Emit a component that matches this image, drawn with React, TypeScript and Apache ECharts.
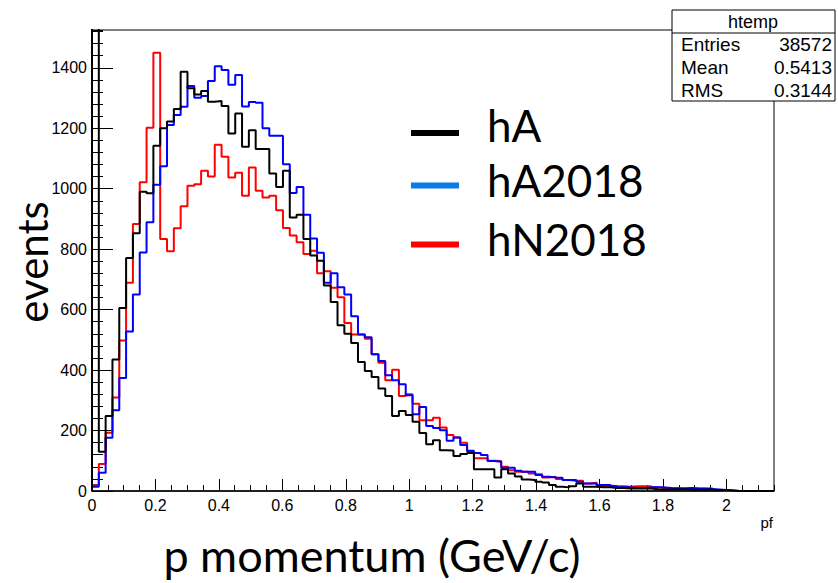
import React, { useEffect, useRef } from "react";
import * as echarts from "echarts";

// Histogram binning (ROOT htemp: 100 bins from 0 to 2.15)
const X_MIN = 0;
const X_MAX = 2.15;
const N_BINS = 100;
const Y_MAX = 1525;

// Bin contents (bins beyond the list are empty)
const hA = [
  1600, 130, 248, 435, 605, 771, 853, 990, 985, 1142,
  1200, 1222, 1264, 1387, 1332, 1312, 1323, 1288, 1290, 1274,
  1183, 1249, 1139, 1193, 1131, 1131, 1050, 1006, 1059, 905,
  914, 834, 779, 762, 680, 625, 548, 520, 490, 427,
  397, 377, 339, 314, 248, 265, 251, 229, 192, 155,
  168, 135, 134, 116, 122, 126, 72, 72, 72, 45,
  72, 58, 48, 38, 36, 31, 28, 20, 14, 12,
  16, 25, 14, 14, 12, 12, 10, 10, 8, 9,
  8, 8, 6, 5, 5, 6, 6, 4, 4, 4,
  6, 3, 3, 2,
];
const hA2018 = [
  14, 60, 176, 267, 374, 528, 650, 789, 889, 1013,
  1074, 1211, 1244, 1271, 1340, 1301, 1307, 1356, 1405, 1393,
  1344, 1376, 1272, 1287, 1284, 1200, 1175, 1175, 1081, 986,
  1006, 914, 835, 788, 689, 720, 674, 650, 578, 518,
  509, 452, 430, 383, 366, 353, 317, 254, 278, 215,
  208, 201, 166, 177, 152, 133, 126, 119, 99, 97,
  77, 77, 67, 64, 64, 53, 47, 45, 44, 36,
  36, 31, 25, 25, 20, 20, 16, 12, 12, 10,
  10, 12, 12, 12, 10, 9, 9, 10, 8, 7,
  7, 5, 3, 2,
];
const hN2018 = [
  20, 89, 193, 309, 498, 689, 883, 1021, 1202, 1450,
  834, 793, 869, 942, 1010, 1015, 1059, 1040, 1145, 1106,
  1037, 1053, 977, 1070, 993, 971, 977, 929, 870, 845,
  823, 784, 795, 720, 727, 672, 641, 556, 518, 518,
  504, 452, 424, 366, 401, 314, 320, 289, 234, 234,
  242, 210, 185, 177, 160, 130, 108, 108, 100, 99,
  80, 69, 64, 64, 58, 55, 45, 47, 40, 36,
  34, 34, 25, 27, 15, 18, 16, 16, 14, 16,
  16, 16, 12, 10, 8, 8, 7, 8, 8, 9,
  8, 3, 2,
];

const seriesNames = ["hN2018", "hA2018", "hA"];
const seriesColors = ["#ff0000", "#0000ff", "#000000"];
const legendNames = ["hA", "hA2018", "hN2018"];
const legendColors = ["#000000", "#0a7ce6", "#ff0000"];

const statsTitle = "htemp";
const statsLabels = ["Entries", "Mean", "RMS"];
const statsValues = ["38572", "0.5413", "0.3144"];

function toSteps(values: number[]): [number, number][] {
  const w = (X_MAX - X_MIN) / N_BINS;
  const full = Array.from({ length: N_BINS }, (_, i) => values[i] ?? 0);
  const pts: [number, number][] = [[X_MIN, 0]];
  full.forEach((v, i) => pts.push([X_MIN + i * w, v]));
  pts.push([X_MAX, full[N_BINS - 1]]);
  pts.push([X_MAX, 0]);
  return pts;
}

export default function App() {
  const ref = useRef<HTMLDivElement>(null);
  useEffect(() => {
    if (!ref.current) return;
    const chart = echarts.init(ref.current, undefined, { renderer: "svg" });
    const datasets = [hN2018, hA2018, hA];
    const tickFont = { fontFamily: "Liberation Sans", fontSize: 16, color: "#000" };
    const plain = (v: number) => String(Math.round(v * 1000) / 1000);

    const legendRows = [
      { line: 133, text: 125 },
      { line: 185.5, text: 180 },
      { line: 244.5, text: 239 },
    ];

    const graphic: any[] = [];
    legendNames.forEach((name, i) => {
      graphic.push({
        type: "line",
        shape: { x1: 411, y1: legendRows[i].line, x2: 459, y2: legendRows[i].line },
        style: { stroke: legendColors[i], lineWidth: 6 },
        z: 20,
      });
      graphic.push({
        type: "text",
        x: 487,
        y: legendRows[i].text,
        style: {
          text: name,
          fontFamily: "Lato",
          fontSize: 44,
          fill: "#000",
          align: "left",
          verticalAlign: "middle",
        },
        z: 20,
      });
    });

    // stats box
    graphic.push({
      type: "rect",
      shape: { x: 672, y: 10, width: 163, height: 91 },
      style: { fill: "#fff", stroke: "#000", lineWidth: 1 },
      z: 30,
    });
    graphic.push({
      type: "line",
      shape: { x1: 672, y1: 33, x2: 835, y2: 33 },
      style: { stroke: "#000", lineWidth: 1 },
      z: 31,
    });
    graphic.push({
      type: "text",
      x: 753,
      y: 21.5,
      style: { text: statsTitle, fontFamily: "Liberation Sans", fontSize: 18, fill: "#000", align: "center", verticalAlign: "middle" },
      z: 31,
    });
    statsLabels.forEach((lab, i) => {
      const y = 44.5 + i * 23;
      graphic.push({
        type: "text",
        x: 681,
        y,
        style: { text: lab, fontFamily: "Liberation Sans", fontSize: 19, fill: "#000", align: "left", verticalAlign: "middle" },
        z: 31,
      });
      graphic.push({
        type: "text",
        x: 832,
        y,
        style: { text: statsValues[i], fontFamily: "Liberation Sans", fontSize: 19, fill: "#000", align: "right", verticalAlign: "middle" },
        z: 31,
      });
    });

    // axis titles
    graphic.push({
      type: "text",
      x: 372,
      y: 555,
      style: { text: "p momentum (GeV/c)", fontFamily: "Lato", fontSize: 45, fill: "#000", align: "center", verticalAlign: "middle" },
    });
    graphic.push({
      type: "text",
      x: 32,
      y: 262,
      rotation: Math.PI / 2,
      style: { text: "events", fontFamily: "Lato", fontSize: 42, fill: "#000", align: "center", verticalAlign: "middle" },
    });
    graphic.push({
      type: "text",
      x: 773,
      y: 522,
      style: { text: "pf", fontFamily: "Liberation Sans", fontSize: 15, fill: "#000", align: "right", verticalAlign: "middle" },
    });

    chart.setOption({
      animation: false,
      backgroundColor: "#fff",
      grid: {
        left: 92,
        top: 30,
        width: 682,
        height: 461,
        show: true,
        borderColor: "#000",
        borderWidth: 1,
        backgroundColor: "transparent",
        containLabel: false,
      },
      xAxis: [
        {
          type: "value",
          position: "bottom",
          min: X_MIN,
          max: X_MAX,
          interval: 0.2,
          axisLine: { show: true, onZero: false, lineStyle: { color: "#000", width: 1.5 } },
          axisTick: { show: true, inside: true, length: 12, lineStyle: { color: "#000", width: 1 } },
          axisLabel: { show: true, margin: 6, showMaxLabel: false, formatter: plain, ...tickFont },
          splitLine: { show: false },
        },
        {
          type: "value",
          position: "bottom",
          min: X_MIN,
          max: X_MAX,
          interval: 0.05,
          axisLine: { show: false, onZero: false },
          axisTick: { show: true, inside: true, length: 6, lineStyle: { color: "#000", width: 1 } },
          axisLabel: { show: false },
          splitLine: { show: false },
        },
      ],
      yAxis: [
        {
          type: "value",
          position: "left",
          min: 0,
          max: Y_MAX,
          interval: 200,
          axisLine: { show: true, onZero: false, lineStyle: { color: "#000", width: 1.5 } },
          axisTick: { show: true, inside: true, length: 21, lineStyle: { color: "#000", width: 1 } },
          axisLabel: { show: true, margin: 5, showMaxLabel: false, formatter: plain, ...tickFont },
          splitLine: { show: false },
        },
        {
          type: "value",
          position: "left",
          min: 0,
          max: Y_MAX,
          interval: 40,
          axisLine: { show: false, onZero: false },
          axisTick: { show: true, inside: true, length: 11, lineStyle: { color: "#000", width: 1 } },
          axisLabel: { show: false },
          splitLine: { show: false },
        },
      ],
      series: datasets.map((d, i) => ({
        name: seriesNames[i],
        type: "line",
        step: "end",
        xAxisIndex: 0,
        yAxisIndex: 0,
        data: toSteps(d),
        symbol: "none",
        clip: true,
        lineStyle: { color: seriesColors[i], width: 2 },
        itemStyle: { color: seriesColors[i] },
        z: 3 + i,
      })),
      graphic,
    });
    return () => chart.dispose();
  }, []);

  return <div ref={ref} style={{ width: 838, height: 583, position: "absolute", left: 0, top: 0 }} />;
}
